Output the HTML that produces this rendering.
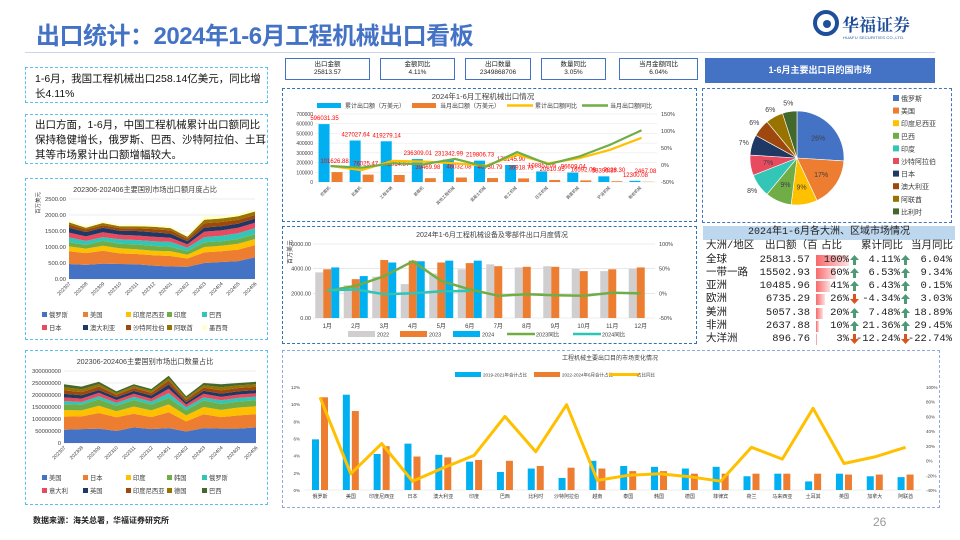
<!DOCTYPE html>
<html><head><meta charset="utf-8">
<style>
*{margin:0;padding:0;box-sizing:border-box}
body{width:960px;height:540px;overflow:hidden;background:#fff;font-family:"Liberation Sans","Noto Sans CJK SC",sans-serif;position:relative}
.abs{position:absolute}
.dbox{position:absolute;border:1.5px dashed #5bc0eb}
.kpi{position:absolute;top:58px;height:22px;border:1px solid #4472c4;font-size:6.5px;text-align:center;line-height:8px;padding-top:2px;color:#222}
.tb{font-family:"Liberation Mono","Noto Sans CJK SC",monospace;font-size:10.5px;color:#222}
.row{position:absolute;left:703px;width:252px;height:13.3px;line-height:13.3px;border-bottom:1px solid #fff}
.row span{position:absolute;top:0}
</style></head>
<body>
<svg id="charts" class="abs" style="left:0;top:0" width="960" height="540"></svg>

<div class="abs" style="left:36px;top:16px;font-size:24px;font-weight:bold;color:#4472c4;letter-spacing:-0.5px">出口统计：2024年1-6月工程机械出口看板</div>
<div class="abs" style="left:25px;top:52px;width:910px;height:1px;background:#c9d6ea"></div>
<div class="abs" style="left:842px;top:11px;font-size:17px;font-weight:bold;color:#1f4e9a;font-family:'Noto Serif CJK SC',serif">华福证券</div>
<div class="abs" style="left:843px;top:35px;font-size:4px;color:#1f4e9a;letter-spacing:0.2px">HUAFU SECURITIES CO.,LTD.</div>

<div class="dbox" style="left:25px;top:67px;width:243px;height:36px"></div>
<div class="abs" style="left:35px;top:72px;width:230px;font-size:10.5px;line-height:15px;color:#111">1-6月，我国工程机械出口258.14亿美元，同比增长4.11%</div>
<div class="dbox" style="left:25px;top:114px;width:243px;height:50px"></div>
<div class="abs" style="left:35px;top:118px;width:232px;font-size:10.5px;line-height:15px;color:#111">出口方面，1-6月，中国工程机械累计出口额同比保持稳健增长，俄罗斯、巴西、沙特阿拉伯、土耳其等市场累计出口额增幅较大。</div>

<div class="kpi" style="left:285px;width:85px">出口金额<br>25813.57</div>
<div class="kpi" style="left:380px;width:75px">金额同比<br>4.11%</div>
<div class="kpi" style="left:465px;width:66px">出口数量<br>2349868706</div>
<div class="kpi" style="left:541px;width:65px">数量同比<br>3.05%</div>
<div class="kpi" style="left:619px;width:79px">当月金额同比<br>6.04%</div>
<div class="abs" style="left:705px;top:58px;width:230px;height:25px;background:#4472c4;color:#fff;font-size:9px;font-weight:bold;text-align:center;line-height:25px">1-6月主要出口目的国市场</div>

<div class="dbox" style="left:282px;top:88px;width:415px;height:134px;border-color:#2e75b6"></div>
<div class="dbox" style="left:282px;top:226px;width:415px;height:118px;border-color:#2e75b6"></div>
<div class="dbox" style="left:702px;top:88px;width:250px;height:135px;border-color:#4472c4"></div>
<div class="dbox" style="left:25px;top:178px;width:243px;height:162px"></div>
<div class="dbox" style="left:25px;top:350px;width:243px;height:155px"></div>
<div class="dbox" style="left:282px;top:350px;width:658px;height:158px;border-color:#8faadc"></div>

<div class="tb" id="table">
<div class="abs" style="left:703px;top:226px;width:252px;height:14px;background:#bdd7ee;text-align:center;line-height:14px;font-size:10px;color:#222">2024年1-6月各大洲、区域市场情况</div>
</div>

<div class="abs" style="left:33px;top:515px;font-size:8px;font-weight:bold;color:#222">数据来源：海关总署，华福证券研究所</div>
<div class="abs" style="left:873px;top:515px;font-size:12px;color:#999">26</div>

<script>
// ---------- data ----------
const topCats = ['挖掘机','起重机','工程车辆','装载机','其他工程机械','混凝土机械','桩工机械','压实机械','路面机械','铲运机械','凿岩机械'];
const topCum = [596031.35,427027.64,419279.14,236309.01,231342.99,219806.73,175145.90,108851.05,96609.04,58396.87,12300.08];
const topMon = [101626.88,76025.47,72014.87,39469.98,46032.08,40730.79,36918.73,20810.95,16592.08,7826.30,2467.08];
const topCumYoY = [-3,-15,12,10,5,-2,30,5,20,45,80];
const topMonYoY = [-3,-8,5,2,18,-5,38,2,25,60,102];
const topLeftTicks = [0,100000,200000,300000,400000,500000,600000,700000];
const topRightTicks = [-50,0,50,100,150];

const months = ['1月','2月','3月','4月','5月','6月','7月','8月','9月','10月','11月','12月'];
const m2022 = [3700,2650,3350,2750,3600,3950,4350,4100,4200,4000,3800,4000];
const m2023 = [3950,3150,4700,4650,4500,4450,4200,4150,4150,3800,3950,4100];
const m2024 = [4100,3400,4500,4600,4650,4650];
const yoy2023 = [5,15,35,65,25,8,-5,-2,-4,-5,1,0];
const yoy2024 = [6,8,-2,0,4,5];
const midLeftTicks = [0,2000,4000,6000];
const midRightTicks = [-50,0,50,100];

const areaMonths = ['202307','202308','202309','202310','202311','202312','202401','202402','202403','202404','202405','202406'];
const area1Names = ['俄罗斯','美国','印度尼西亚','印度','巴西','日本','澳大利亚','沙特阿拉伯','阿联酋','墨西哥'];
const a1Russia = [470,440,480,470,460,420,390,380,500,530,560,680];
const a1US = [400,370,400,330,320,320,330,260,330,340,360,380];
const a1Indo = [150,140,160,160,150,140,150,120,170,170,180,190];
const a1India = [130,120,150,140,150,150,140,110,150,140,150,150];
const a1Brazil = [150,120,120,140,140,150,150,110,160,170,180,190];
const a1Japan = [150,140,150,140,140,140,130,100,170,170,170,170];
const a1Aus = [150,140,140,130,140,140,130,100,130,130,130,130];
const a1Saudi = [100,80,80,80,80,100,100,80,130,130,120,110];
const a1UAE = [70,50,70,60,70,70,70,60,110,110,110,110];
const a1Mex = [70,60,60,50,60,60,60,40,110,90,80,80];
const area1Ticks = [0,500,1000,1500,2000,2500];

const area2Names = ['美国','日本','印度','韩国','俄罗斯','意大利','英国','印度尼西亚','德国','巴西'];
const a2US = [55,58,60,50,65,58,62,48,62,60,60,65];
const a2Japan = [55,53,65,57,57,50,66,42,58,48,55,55];
const a2India = [27,25,30,25,30,28,33,25,30,30,33,33];
const a2Korea = [25,23,27,23,27,24,27,22,27,25,25,25];
const a2Russia = [13,12,13,12,13,13,20,12,13,15,15,15];
const a2Italy = [15,14,14,12,13,12,18,11,15,14,14,14];
const a2UK = [15,14,12,12,12,13,18,10,13,14,14,14];
const a2Indo = [15,13,14,10,12,11,16,10,13,14,13,13];
const a2Germany = [12,12,10,7,8,8,10,7,10,12,11,11];
const a2Brazil = [13,11,10,7,8,8,10,8,9,13,10,10];
const area2Ticks = [0,50,100,150,200,250,300];
const area2TickLabels = ['0','50000000','100000000','150000000','200000000','250000000','300000000'];

const pieNames = ['俄罗斯','美国','印度尼西亚','巴西','印度','沙特阿拉伯','日本','澳大利亚','阿联酋','比利时'];
const pieValues = [26,17,9,9,8,7,7,6,6,5];

const btmCats = ['俄罗斯','美国','印度尼西亚','日本','澳大利亚','印度','巴西','比利时','沙特阿拉伯','越南','泰国','韩国','德国','菲律宾','荷兰','马来西亚','土耳其','英国','加拿大','阿联酋'];
const btmOld = [5.9,11.1,4.2,5.4,4.1,3.3,2.1,2.5,1.4,3.4,2.8,2.7,2.5,2.7,1.6,1.9,1.0,1.9,1.6,1.5];
const btmNew = [10.8,9.2,5.1,3.9,3.8,3.5,3.4,2.8,2.6,2.5,2.2,2.2,1.9,1.9,1.9,1.9,1.9,1.8,1.8,1.8];
const btmChg = [86,-18,23,-28,-10,7,60,12,76,-27,-20,-18,-22,-28,18,2,71,-4,5,18];
const btmLeftTicks = [0,2,4,6,8,10,12];
const btmRightTicks = [-40,-20,0,20,40,60,80,100];

const tblNames = ['全球','一带一路','亚洲','欧洲','美洲','非洲','大洋洲'];
const tblValue = ['25813.57','15502.93','10485.96','6735.29','5057.38','2637.88','896.76'];
const tblShare = [100,60,41,26,20,10,3];
const tblCum = [4.11,6.53,6.43,-4.34,7.48,21.36,-12.24];
const tblMon = [6.04,9.34,0.15,3.03,18.89,29.45,-22.74];

// ---------- helpers ----------
const NS='http://www.w3.org/2000/svg';
const svg=document.getElementById('charts');
function mk(tag,attrs,parent){const e=document.createElementNS(NS,tag);for(const k in attrs)e.setAttribute(k,attrs[k]);(parent||svg).appendChild(e);return e;}
function tx(x,y,s,size,fill,anchor,extra){const e=mk('text',Object.assign({x:x,y:y,'font-size':size,fill:fill||'#404040','text-anchor':anchor||'start','font-family':'Liberation Sans, Noto Sans CJK SC, sans-serif'},extra||{}));e.textContent=s;return e;}
function poly(pts){return pts.map(p=>p[0].toFixed(1)+','+p[1].toFixed(1)).join(' ');}

// ---------- top chart ----------
(function(){
 const x0=315,x1=657,yb=182,yt=114,n=topCats.length,bw=(x1-x0)/n;
 const yL=v=>yb-v/700000*(yb-yt), yR=p=>yb-(p+50)/200*(yb-yt), cx=i=>x0+bw*(i+0.5);
 let t=tx(483,99,'2024年1-6月工程机械出口情况',7.5,'#404040','middle');
 
 topLeftTicks.forEach(v=>{let g=mk('line',{x1:x0,x2:x1,y1:yL(v),y2:yL(v),stroke:'#e6e6e6','stroke-width':0.5});
  let l=tx(x0-2,yL(v)+2,String(v),5,'#404040','end');});
 topRightTicks.forEach(p=>{let l=tx(x1+4,yR(p)+2,p+'%',5.5,'#404040','start');});
 topCats.forEach((c,i)=>{
  let b=mk('rect',{x:cx(i)-12,y:yL(topCum[i]),width:11,height:yb-yL(topCum[i]),fill:'#00b0f0'});
  let o=mk('rect',{x:cx(i)+1,y:yL(topMon[i]),width:11,height:yb-yL(topMon[i]),fill:'#ed7d31'});
  let l=tx(cx(i)-6,yL(topCum[i])-4,topCum[i].toFixed(2),6,'#ff0000','middle');
  let m=tx(cx(i)+4,yL(topMon[i])-9,topMon[i].toFixed(2),6,'#ff0000','middle');
  let cl=tx(cx(i),188,c,4,'#404040','end',{transform:'rotate(-45 '+cx(i)+' 188)'});
 });
 let l1=mk('polyline',{points:poly(topCumYoY.map((p,i)=>[cx(i),yR(p)])),fill:'none',stroke:'#ffc000','stroke-width':2.2});
 let l2=mk('polyline',{points:poly(topMonYoY.map((p,i)=>[cx(i),yR(p)])),fill:'none',stroke:'#70ad47','stroke-width':2.2});
 const leg=[['rect','#00b0f0',317,'累计出口额（万美元）'],['rect','#ed7d31',412,'当月出口额（万美元）'],['line','#ffc000',507,'累计出口额同比'],['line','#70ad47',582,'当月出口额同比']];
 leg.forEach(d=>{let s=d[0]=='rect'?mk('rect',{x:d[2],y:103,width:24,height:5,fill:d[1]}):mk('line',{x1:d[2],x2:d[2]+26,y1:105.5,y2:105.5,stroke:d[1],'stroke-width':2.5});
  let tt=tx(d[2]+28,108,d[3],6,'#404040');});
})();

// ---------- middle chart ----------
(function(){
 const x0=313,x1=655,yb=318,yt=244,n=months.length,bw=(x1-x0)/n;
 const yL=v=>yb-v/6000*(yb-yt), yR=p=>yb-(p+50)/150*(yb-yt), cx=i=>x0+bw*(i+0.5);
 let t=tx(492,237,'2024年1-6月工程机械设备及零部件出口月度情况',7,'#404040','middle');
 let ya=tx(292,252,'百万美元',6,'#404040','middle',{transform:'rotate(-90 292 252)'});
 midLeftTicks.forEach(v=>{let g=mk('line',{x1:x0,x2:x1,y1:yL(v),y2:yL(v),stroke:'#d9d9d9','stroke-width':0.6});
  let l=tx(x0-2,yL(v)+2,v.toFixed(2),5.5,'#404040','end');});
 midRightTicks.forEach(p=>{let l=tx(x1+4,yR(p)+2,p+'%',5.5,'#404040');});
 months.forEach((m,i)=>{
  let a=mk('rect',{x:cx(i)-12,y:yL(m2022[i]),width:8,height:yb-yL(m2022[i]),fill:'#d0cece'});
  let b=mk('rect',{x:cx(i)-4,y:yL(m2023[i]),width:8,height:yb-yL(m2023[i]),fill:'#ed7d31'});
  if(i<m2024.length){let c=mk('rect',{x:cx(i)+4,y:yL(m2024[i]),width:8,height:yb-yL(m2024[i]),fill:'#00b0f0'});}
  let l=tx(cx(i),328,m,6,'#404040','middle');
 });
 let l1=mk('polyline',{points:poly(yoy2023.map((p,i)=>[cx(i),yR(p)])),fill:'none',stroke:'#70ad47','stroke-width':2.5});
 let l2=mk('polyline',{points:poly(yoy2024.map((p,i)=>[cx(i),yR(p)])),fill:'none',stroke:'#2ec4b6','stroke-width':2.5});
 const leg=[['rect','#d0cece',348,'2022'],['rect','#ed7d31',400,'2023'],['rect','#00b0f0',453,'2024'],['line','#70ad47',507,'2023同比'],['line','#2ec4b6',573,'2024同比']];
 leg.forEach(d=>{let s=d[0]=='rect'?mk('rect',{x:d[2],y:331,width:27,height:6,fill:d[1]}):mk('line',{x1:d[2],x2:d[2]+28,y1:334,y2:334,stroke:d[1],'stroke-width':2.5});
  let tt=tx(d[2]+29,336.5,d[3],5.5,'#404040');});
})();

// ---------- stacked area charts ----------
function areaChart(cfg){
 const {x0,x1,yb,yt,max,series,colors,names,ticks,tickLabels,title,titleY,legY,labelY,prefix}=cfg;
 const n=areaMonths.length,xs=i=>x0+(x1-x0)*i/(n-1),y=v=>yb-v/max*(yb-yt);
 let t=tx(145,titleY,title,7.2,'#404040','middle');
 ticks.forEach((v,k)=>{let g=mk('line',{x1:x0,x2:x1,y1:y(v),y2:y(v),stroke:'#d9d9d9','stroke-width':0.6});
  let l=tx(x0-3,y(v)+2,tickLabels[k],5.8,'#404040','end');});
 let base=areaMonths.map(()=>0);
 series.forEach((s,si)=>{const top=s.map((v,i)=>base[i]+v);
  const pts=top.map((v,i)=>[xs(i),y(v)]).concat(base.map((v,i)=>[xs(i),y(v)]).reverse());
  let p=mk('polygon',{points:poly(pts),fill:colors[si]});base=top;});
 areaMonths.forEach((m,i)=>{let l=tx(xs(i)+2,labelY,m,5,'#404040','end',{transform:'rotate(-45 '+(xs(i)+2)+' '+labelY+')'});});
 const colX=[42,83,126,167,202];
 names.forEach((nm,i)=>{const cx=colX[i%5],cy=legY+Math.floor(i/5)*13;
  let s=mk('rect',{x:cx,y:cy-5,width:5,height:5,fill:colors[i]});
  let l=tx(cx+7,cy,nm,6.3,'#404040');});
}
areaChart({x0:69,x1:255,yb:279,yt:199,max:2500,series:[a1Russia,a1US,a1Indo,a1India,a1Brazil,a1Japan,a1Aus,a1Saudi,a1UAE,a1Mex],
 colors:['#4472c4','#ed7d31','#ffc000','#70ad47','#33c5b5','#e84a5f','#203864','#9e480e','#997300','#ffffcc'],
 names:['俄罗斯','美国','印度尼西亚','印度','巴西','日本','澳大利亚','沙特阿拉伯','阿联酋','墨西哥'],
 ticks:area1Ticks,tickLabels:area1Ticks.map(v=>v.toFixed(2)),title:'202306-202406主要国别市场出口额月度占比',titleY:192,legY:317,labelY:284,prefix:'value-area'});
areaChart({x0:64,x1:256,yb:443,yt:371,max:300,series:[a2US,a2Japan,a2India,a2Korea,a2Russia,a2Italy,a2UK,a2Indo,a2Germany,a2Brazil],
 colors:['#4472c4','#ed7d31','#ffc000','#70ad47','#33c5b5','#e84a5f','#203864','#9e480e','#997300','#43682b'],
 names:area2Names,ticks:area2Ticks,tickLabels:area2TickLabels,title:'202306-202406主要国别市场出口数量占比',titleY:364,legY:480,labelY:448,prefix:'qty-area'});
let yt1=tx(40,203,'百万美元',5.5,'#404040','middle',{transform:'rotate(-90 40 203)'});



// ---------- pie ----------
(function(){
 const cx=797,cy=158,r=47,cols=['#4472c4','#ed7d31','#ffc000','#70ad47','#33c5b5','#e84a5f','#203864','#9e480e','#997300','#43682b'];
 const tot=pieValues.reduce((a,b)=>a+b,0);let a0=0;
 pieValues.forEach((v,i)=>{const a1=a0+v/tot*2*Math.PI;
  const p=(a)=>[cx+r*Math.sin(a),cy-r*Math.cos(a)];const s=p(a0),e=p(a1);
  let sl=mk('path',{d:`M${cx},${cy}L${s[0]},${s[1]}A${r},${r} 0 ${a1-a0>Math.PI?1:0} 1 ${e[0]},${e[1]}Z`,fill:cols[i],stroke:'#fff','stroke-width':0.6});
  
  const am=(a0+a1)/2,inside=v>=9||i==5,rr=inside?r*0.62:r*1.18;
  let l=tx(cx+rr*Math.sin(am),cy-rr*Math.cos(am)+2.5,v+'%',7,'#404040','middle');
  a0=a1;});
 pieNames.forEach((nm,i)=>{const y=98+i*12.6;
  let s=mk('rect',{x:893,y:y-3,width:6,height:6,fill:cols[i]});
  let l=tx(901,y+3,nm,7,'#404040');});
})();

// ---------- bottom chart ----------
(function(){
 const x0=304.6,x1=921,yb=490,yt=387,n=btmCats.length,bw=(x1-x0)/n;
 const yL=v=>yb-v/12*(yb-yt),yR=p=>yb-(p+40)/140*(yb-yt),cx=i=>x0+bw*(i+0.5);
 let t=tx(610,360,'工程机械主要出口目的市场变化情况',6,'#404040','middle');
 btmLeftTicks.forEach(v=>{let l=tx(300,yL(v)+2,v+'%',4.5,'#404040','end');});
 btmRightTicks.forEach(p=>{let l=tx(926,yR(p)+2,p+'%',4.5,'#404040');});
 let ax=mk('line',{x1:x0,x2:x1,y1:yb,y2:yb,stroke:'#d9d9d9','stroke-width':0.6});
 btmCats.forEach((c,i)=>{
  let b=mk('rect',{x:cx(i)-8,y:yL(btmOld[i]),width:7,height:yb-yL(btmOld[i]),fill:'#00b0f0'});
  let o=mk('rect',{x:cx(i)+1,y:yL(btmNew[i]),width:7,height:yb-yL(btmNew[i]),fill:'#ed7d31'});
  let l=tx(cx(i),498,c,5,'#404040','middle');});
 let ln=mk('polyline',{points:poly(btmChg.map((p,i)=>[cx(i),yR(p)])),fill:'none',stroke:'#ffc000','stroke-width':3,'stroke-linejoin':'round'});
 const leg=[['rect','#00b0f0',455,'2019-2021年合计占比'],['rect','#ed7d31',534,'2022-2024年6月合计占比'],['line','#ffc000',609,'占比同比']];
 leg.forEach(d=>{let s=d[0]=='rect'?mk('rect',{x:d[2],y:372,width:26,height:5,fill:d[1]}):mk('line',{x1:d[2],x2:d[2]+30,y1:374.5,y2:374.5,stroke:d[1],'stroke-width':3});
  let tt=tx(d[2]+28,376.5,d[3],4.5,'#404040');});
})();

// ---------- logo ----------
let lg=mk('circle',{cx:826,cy:23,r:11,fill:'none',stroke:'#1f4e9a','stroke-width':4});


let lg2=mk('circle',{cx:827,cy:24,r:4,fill:'#1f4e9a'});



// ---------- table ----------
(function(){
 const tb=document.getElementById('table');
 function up(c){return `<svg width="9" height="10" viewBox="0 0 9 10"><path d="M4.5 0L9 5H6V10H3V5H0Z" fill="${c}"/></svg>`;}
 function dn(c){return `<svg width="9" height="10" viewBox="0 0 9 10"><path d="M4.5 10L9 5H6V0H3V5H0Z" fill="${c}"/></svg>`;}
 const hdr=document.createElement('div');hdr.className='row';hdr.style.top='240px';
 
 
 hdr.innerHTML='<span style="left:3px">大洲/地区</span><span style="left:62px">出口额（百</span><span style="left:118px">占比</span><span style="left:158px">累计同比</span><span style="left:208px">当月同比</span>';
 tb.appendChild(hdr);
 tblNames.forEach((nm,i)=>{const r=document.createElement('div');r.className='row';r.style.top=(253.5+i*13.3)+'px';
  
  
  const w=tblShare[i]/100*33;
  const fmt=v=>v.toFixed(2)+'%';
  const ar=v=>v>=0?up('#4e9a76'):dn('#d9531e');
  r.innerHTML=`<span style="left:3px">${nm}</span><span style="right:145px">${tblValue[i]}</span>`+
   `<span style="left:113px;top:1px;height:11px;width:${w}px;background:linear-gradient(90deg,#f8696b,#fde0e0)"></span>`+
   `<span style="right:106px">${tblShare[i]}%</span><span style="left:147px;top:1px">${ar(tblCum[i])}</span>`+
   `<span style="right:55px">${fmt(tblCum[i])}</span><span style="left:198px;top:1px">${ar(tblMon[i])}</span><span style="right:3px">${fmt(tblMon[i])}</span>`;
  tb.appendChild(r);});
})();
</script>
</body></html>
